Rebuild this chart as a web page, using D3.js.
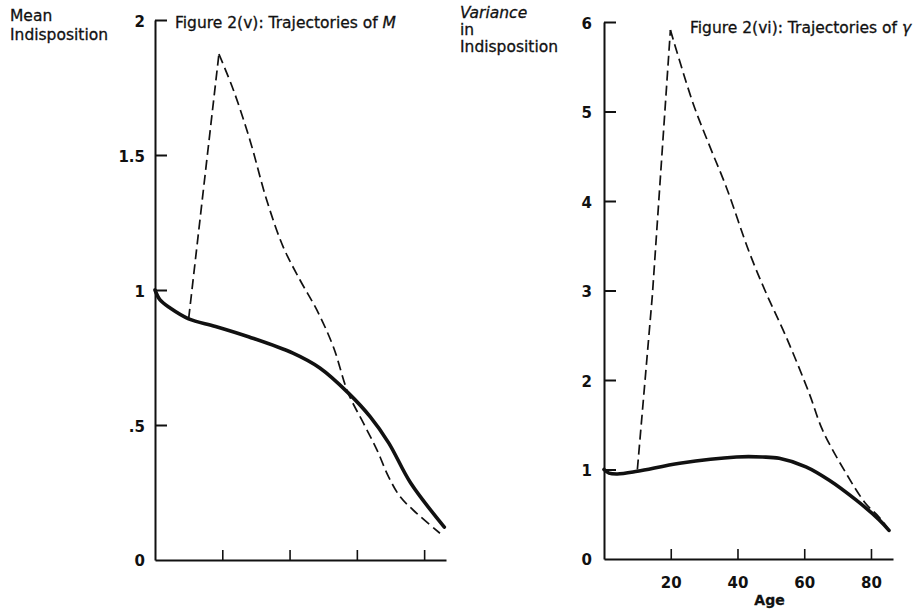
<!DOCTYPE html>
<html>
<head>
<meta charset="utf-8">
<script src="https://cdn.jsdelivr.net/npm/d3@7"></script>
<style>
  body { margin: 0; background: #fff; }
  svg { display: block; }
  .lbl { font-family: "DejaVu Sans", sans-serif; font-size: 15.5px; fill: #111; stroke: #111; stroke-width: 0.3; }
  .tick text { font-family: "DejaVu Sans", sans-serif; font-size: 15px; font-weight: bold; fill: #111; }
</style>
</head>
<body>
<div id="chart"></div>
<script>
// Figure 2(v): mean indisposition M by age
const meanSolidAge = [0, 1.5, 4.5, 10, 18, 28, 41, 49, 57.5, 64, 69.5, 76, 86];
const meanSolidVal = [1.0, 0.963, 0.933, 0.893, 0.865, 0.826, 0.766, 0.711, 0.618, 0.53, 0.433, 0.285, 0.122];
const meanDashAge = [10, 19, 23.3, 28.2, 33.2, 38.1, 43.1, 48.1, 53, 57.4, 62, 66, 69.4, 72.9, 77.8, 84.7];
const meanDashVal = [0.893, 1.874, 1.741, 1.556, 1.333, 1.16, 1.037, 0.926, 0.79, 0.619, 0.506, 0.407, 0.309, 0.234, 0.173, 0.099];

// Figure 2(vi): variance in indisposition gamma by age
const varSolidAge = [0, 1.5, 4, 10, 22.7, 39.7, 47.5, 52.5, 60.5, 67.5, 75.5, 82.4, 85.4];
const varSolidVal = [1.0, 0.96, 0.95, 0.98, 1.07, 1.14, 1.14, 1.125, 1.03, 0.88, 0.66, 0.44, 0.32];
const varDashAge = [10, 14.5, 19.9, 26.7, 31.7, 36.6, 43.6, 48.6, 54.6, 61.5, 65.5, 72.5, 78.4, 82.4, 85.4];
const varDashVal = [1.0, 2.95, 5.91, 5.09, 4.61, 4.16, 3.42, 2.97, 2.48, 1.85, 1.44, 0.96, 0.62, 0.47, 0.32];

const ageTicks = [20, 40, 60, 80];
const meanTicks = [0, 0.5, 1, 1.5, 2];
const meanTickLabels = ["0", ".5", "1", "1.5", "2"];
const varTicks = [0, 1, 2, 3, 4, 5, 6];

const width = 917, height = 613;

const svg = d3.select("#chart").append("svg")
    .attr("width", width)
    .attr("height", height);

function panel(cfg) {
    const x = d3.scaleLinear().domain([0, cfg.xMax]).range([cfg.x0, cfg.x1]);
    const y = d3.scaleLinear().domain([0, cfg.yMax]).range([cfg.y0, cfg.y1]);

    const g = svg.append("g");

    // y axis, ticks pointing into the plot
    const yAxis = d3.axisLeft(y)
        .tickValues(cfg.yTicks.filter(d => d > 0))
        .tickSize(-12)
        .tickSizeOuter(0)
        .tickPadding(cfg.yPad)
        .tickFormat(cfg.yFormat);
    const ya = g.append("g")
        .attr("transform", "translate(" + cfg.x0 + ",0)")
        .call(yAxis);
    ya.select(".domain").attr("stroke", "#111").attr("stroke-width", 2);
    ya.selectAll(".tick line").attr("stroke", "#111").attr("stroke-width", 2);
    ya.selectAll(".tick text").attr("dy", "0.4em");

    // zero label sits by the corner
    g.append("text")
        .attr("x", cfg.x0 - cfg.yPad)
        .attr("y", y(0))
        .attr("dy", "0.4em")
        .attr("text-anchor", "end")
        .style("font-family", "DejaVu Sans, sans-serif")
        .style("font-size", "15px")
        .style("font-weight", "bold")
        .style("fill", "#111")
        .text("0");

    // x axis with short upward ticks
    const xAxis = d3.axisBottom(x)
        .tickValues(ageTicks)
        .tickSize(-10)
        .tickSizeOuter(0)
        .tickPadding(cfg.showAge ? 18 : 0)
        .tickFormat(d => cfg.showAge ? d : "");
    const xa = g.append("g")
        .attr("transform", "translate(0," + cfg.y0 + ")")
        .call(xAxis);
    xa.select(".domain").attr("stroke", "#111").attr("stroke-width", 2);
    xa.selectAll(".tick line").attr("stroke", "#111").attr("stroke-width", 1.6);

    const smooth = d3.line()
        .x(d => x(d[0]))
        .y(d => y(d[1]))
        .curve(d3.curveCatmullRom.alpha(0.5));
    const straight = d3.line()
        .x(d => x(d[0]))
        .y(d => y(d[1]));

    // dashed run: straight climb to the peak, smooth decline after it
    const dashPts = d3.zip(cfg.dashAge, cfg.dashVal);
    const peak = d3.maxIndex(cfg.dashVal);
    g.selectAll(".dash")
        .data([
            { pts: dashPts.slice(0, peak + 1), gen: straight },
            { pts: dashPts.slice(peak), gen: smooth }
        ])
        .enter().append("path")
        .attr("class", "dash")
        .attr("fill", "none")
        .attr("stroke", "#111")
        .attr("stroke-width", 1.7)
        .attr("stroke-dasharray", "10,5")
        .attr("d", d => d.gen(d.pts));

    g.append("path")
        .datum(d3.zip(cfg.solidAge, cfg.solidVal))
        .attr("fill", "none")
        .attr("stroke", "#111")
        .attr("stroke-width", 3.6)
        .attr("stroke-linecap", "round")
        .attr("d", smooth);

    return { g, x, y };
}

const left = panel({
    x0: 155, x1: 446, xMax: 86.5,
    y0: 560, y1: 20, yMax: 2,
    yTicks: meanTicks,
    yFormat: d => meanTickLabels[meanTicks.indexOf(d)],
    yPad: 10,
    showAge: false,
    solidAge: meanSolidAge, solidVal: meanSolidVal,
    dashAge: meanDashAge, dashVal: meanDashVal
});

const right = panel({
    x0: 604, x1: 893, xMax: 86.6,
    y0: 559, y1: 22, yMax: 6,
    yTicks: varTicks,
    yFormat: d => d,
    yPad: 12,
    showAge: true,
    solidAge: varSolidAge, solidVal: varSolidVal,
    dashAge: varDashAge, dashVal: varDashVal
});

// axis titles
svg.append("text").attr("class", "lbl").attr("x", 10).attr("y", 21).text("Mean");
svg.append("text").attr("class", "lbl").attr("x", 10).attr("y", 40).text("Indisposition");

svg.append("text").attr("class", "lbl").attr("x", 460).attr("y", 18)
    .style("font-style", "italic").text("Variance");
svg.append("text").attr("class", "lbl").attr("x", 460).attr("y", 35).text("in");
svg.append("text").attr("class", "lbl").attr("x", 460).attr("y", 52).text("Indisposition");

svg.append("text").attr("class", "lbl")
    .attr("x", right.x(40) + 32).attr("y", 605)
    .attr("text-anchor", "middle")
    .style("font-size", "14px").style("font-weight", "bold")
    .text("Age");

// panel titles
const t1 = svg.append("text").attr("class", "lbl").attr("x", 175).attr("y", 28);
t1.append("tspan").text("Figure 2(v): Trajectories of ");
t1.append("tspan").style("font-style", "italic").text("M");

const t2 = svg.append("text").attr("class", "lbl").attr("x", 690).attr("y", 33);
t2.append("tspan").text("Figure 2(vi): Trajectories of ");
t2.append("tspan").style("font-style", "italic").text("γ");
</script>
</body>
</html>
